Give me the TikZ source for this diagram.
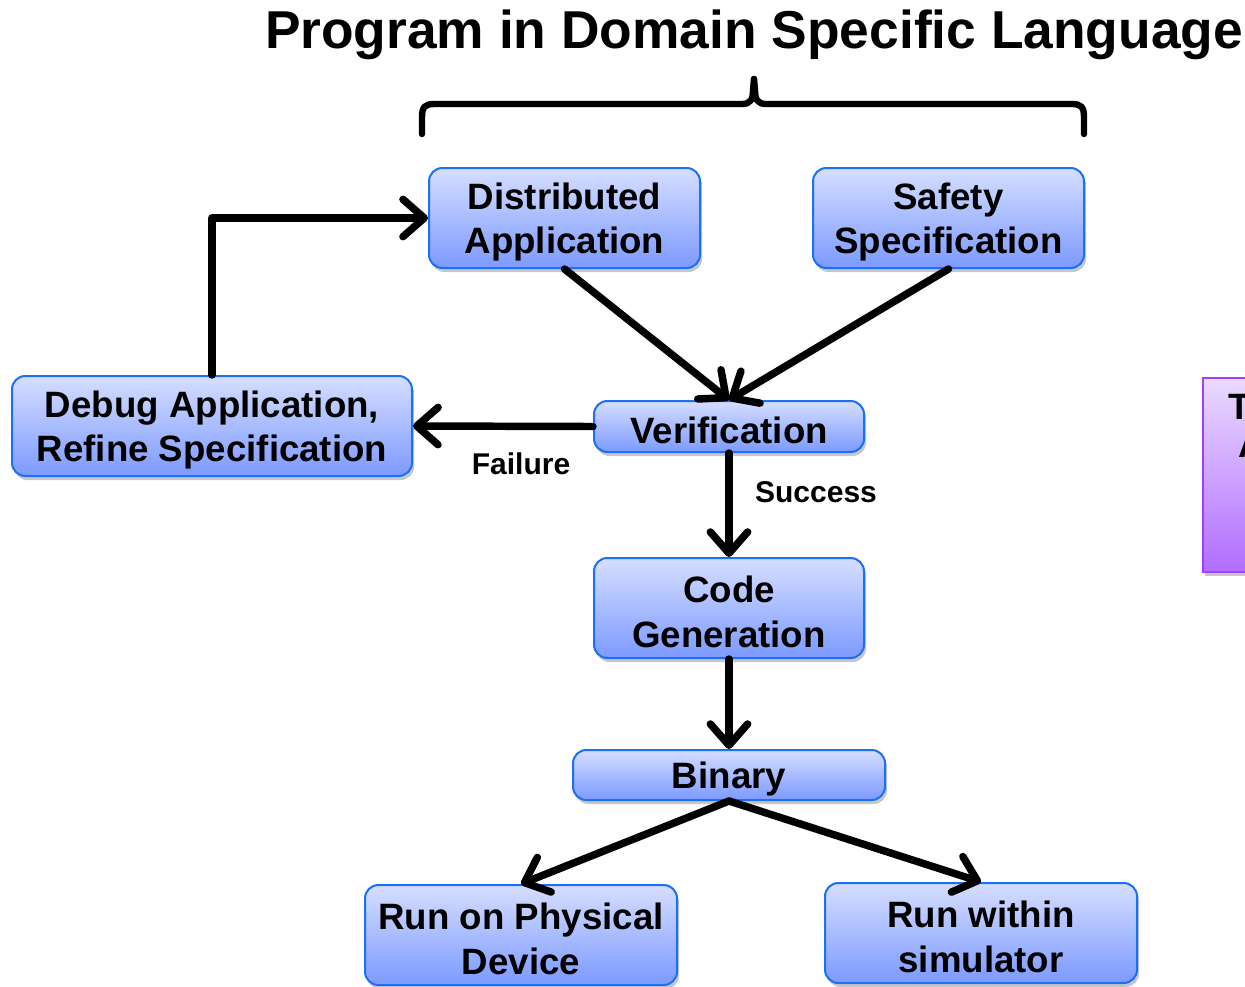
\documentclass[tikz,border=0pt]{standalone}
\usepackage{fontspec}
\setmainfont{Liberation Sans}
\usetikzlibrary{arrows.meta,shadows}
\definecolor{boxtop}{RGB}{214,222,255}
\definecolor{boxbot}{RGB}{124,154,255}
\definecolor{boxline}{RGB}{28,112,248}
\definecolor{ptop}{RGB}{234,218,255}
\definecolor{pbot}{RGB}{178,108,255}
\definecolor{pline}{RGB}{162,62,255}
\begin{document}
\begin{tikzpicture}[x=0.75pt,y=-0.75pt,
  box/.style={rectangle, rounded corners=10pt, draw=boxline, line width=1.5pt,
    top color=boxtop, bottom color=boxbot,
    drop shadow={shadow xshift=1.5pt, shadow yshift=-3pt, fill=black, opacity=0.22},
    inner sep=0pt},
  boxtext/.style={font=\bfseries\fontsize{27.5}{33.5}\selectfont, align=center,
    inner sep=0pt, yshift=-3pt},
  conn/.style={line width=5.6pt, line cap=round, line join=round,
    -{Straight Barb[round, length=16pt, width=28pt]}},
  lbl/.style={font=\bfseries\fontsize{22.5}{27}\selectfont, inner sep=0pt}]
\useasboundingbox (0,0) rectangle (1245,986);
\begin{scope}
\clip (0,0) rectangle (1245,986);

% title and brace
\node[font=\bfseries\fontsize{40}{46}\selectfont, inner sep=0pt] (title) at (754,35) {Program in Domain Specific Language};
\draw[line width=4.8pt, line cap=round, line join=round]
  (422,134) -- (422,117) .. controls (422,107) and (425,104) .. (434,104)
  -- (742,104) .. controls (750,104) and (753,100) .. (753,90) -- (754,79);
\draw[line width=4.8pt, line cap=round, line join=round]
  (1084,134) -- (1084,117) .. controls (1084,107) and (1081,104) .. (1072,104)
  -- (766,104) .. controls (758,104) and (755,100) .. (755,90) -- (754,79);

% nodes
\node[box, minimum width=203.25pt, minimum height=75pt,
  label={[boxtext]center:{Distributed\\Application}}] (da) at (564.5,218) {};
\node[box, minimum width=203.25pt, minimum height=75pt,
  label={[boxtext]center:{Safety\\Specification}}] (ss) at (948.5,218) {};
\node[box, minimum width=202.5pt, minimum height=38.25pt,
  label={[boxtext]center:{Verification}}] (ver) at (729,426.5) {};
\node[box, minimum width=300pt, minimum height=75pt,
  label={[boxtext]center:{Debug Application,\\Refine Specification}}] (dbg) at (212,426) {};
\node[box, minimum width=202.5pt, minimum height=75pt,
  label={[boxtext]center:{Code\\Generation}}] (cg) at (729,608) {};
\node[box, minimum width=234pt, minimum height=37.5pt,
  label={[boxtext]center:{Binary}}] (bin) at (729,775) {};
\node[box, minimum width=234pt, minimum height=75pt,
  label={[boxtext]center:{Run on Physical\\Device}}] (phys) at (521,935) {};
\node[box, minimum width=234pt, minimum height=75pt,
  label={[boxtext]center:{Run within\\simulator}}] (sim) at (981,933) {};

% partially visible purple box at right edge
\fill[black, opacity=0.22] (1205,382) rectangle (1330,576);
\shade[top color=ptop, bottom color=pbot] (1203,378) rectangle (1330,572);
\draw[pline, line width=1.6pt] (1203,378) rectangle (1330,572);
\node[font=\bfseries\fontsize{27.5}{33.5}\selectfont, inner sep=0pt, anchor=base west] (pt1) at (1228,419) {T};
\node[font=\bfseries\fontsize{27.5}{33.5}\selectfont, inner sep=0pt, anchor=base west] (pt2) at (1238,457) {A};

% connectors
\draw[conn] (dbg.north) |- (da.west);
\draw[conn] (da.south) -- (ver.north);
\draw[conn] (ss.south) -- (ver.north);
\draw[conn] (ver.west) -- (dbg.east);
\draw[conn] (ver.south) -- (cg.north);
\draw[conn] (cg.south) -- (bin.north);
\draw[conn] (bin.south) -- (phys.north);
\draw[conn] (bin.south) -- (sim.north);

% labels
\node[lbl] (fail) at (521,464) {Failure};
\node[lbl] (succ) at (816,492) {Success};
\end{scope}
\end{tikzpicture}
\end{document}
